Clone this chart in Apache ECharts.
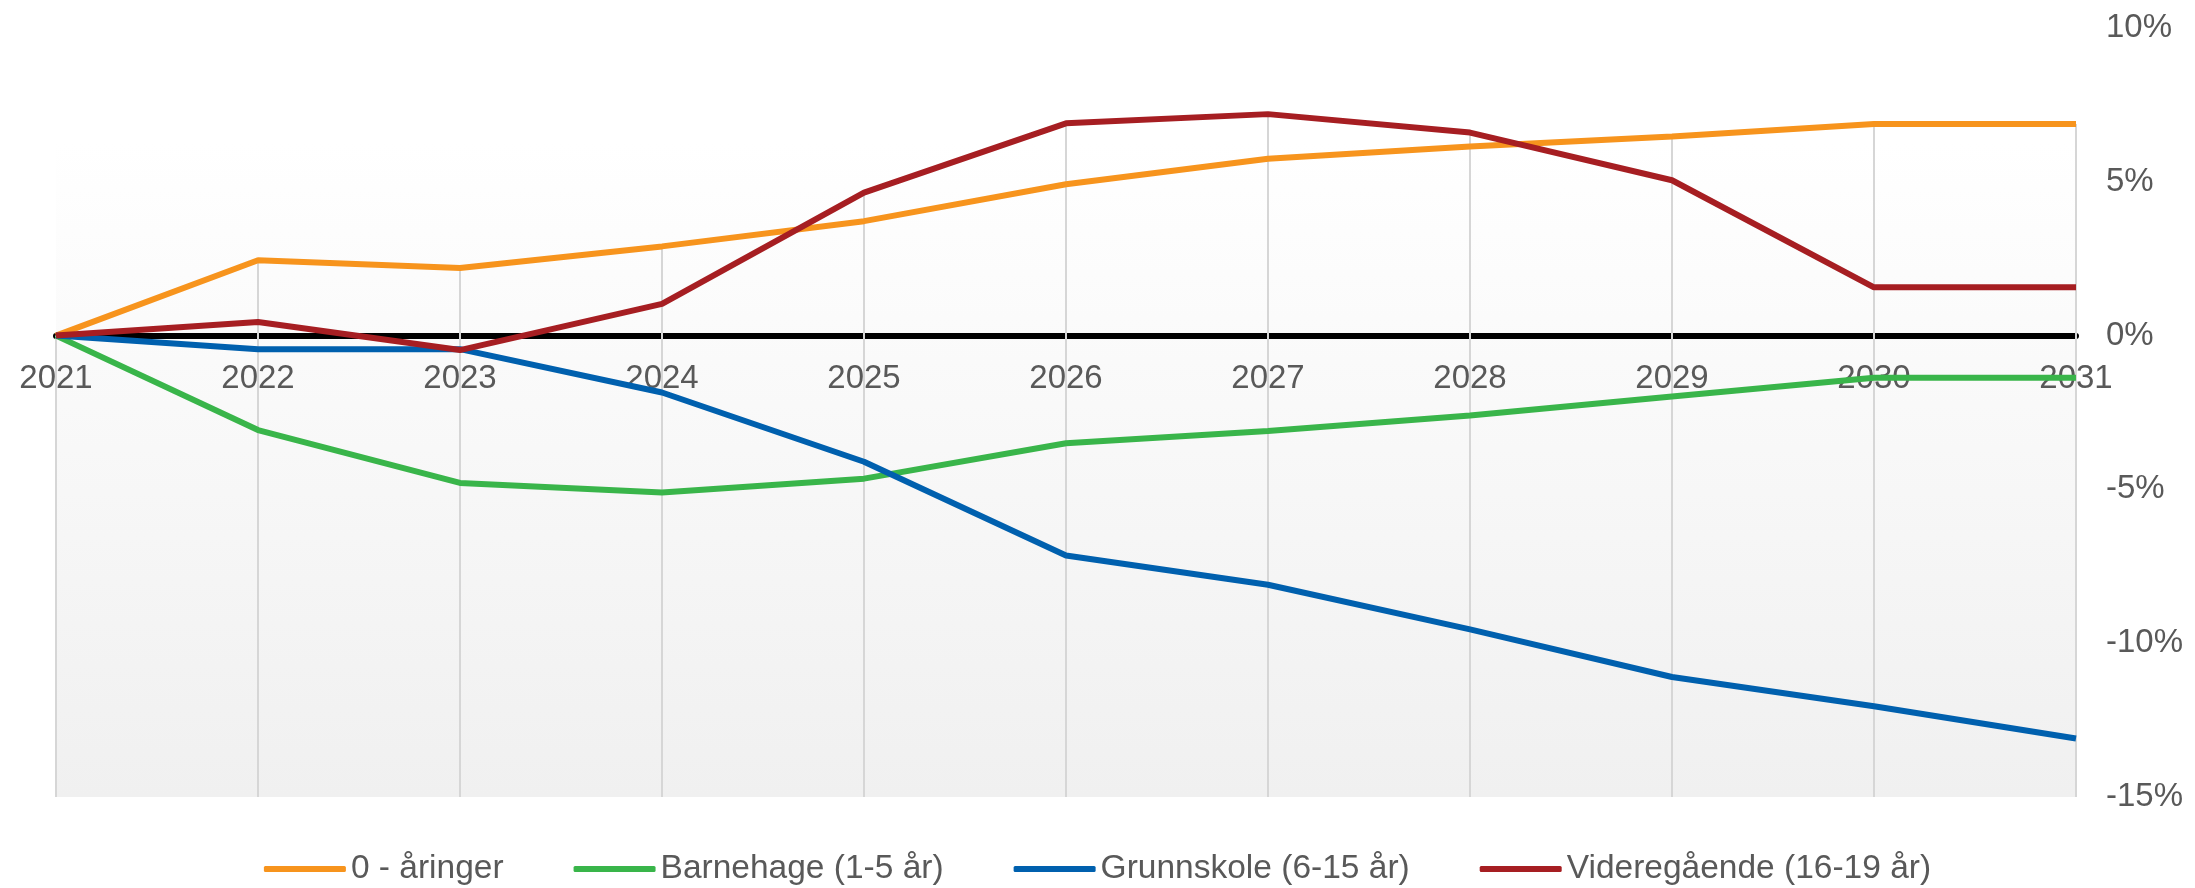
<!DOCTYPE html>
<html>
<head>
<meta charset="utf-8">
<script src="https://cdn.jsdelivr.net/npm/echarts@6/dist/echarts.min.js"></script>
<style>
html,body{margin:0;padding:0;background:#ffffff;}
#chart{width:2195px;height:888px;}
</style>
</head>
<body>
<div id="chart"></div>
<script>
const years = ['2021','2022','2023','2024','2025','2026','2027','2028','2029','2030','2031'];
const seriesNames = ['0 - åringer','Barnehage (1-5 år)','Grunnskole (6-15 år)','Videregående (16-19 år)'];
const aringer = [0, 2.45, 2.2, 2.9, 3.72, 4.92, 5.75, 6.15, 6.47, 6.88, 6.88];
const barnehage = [0, -3.07, -4.79, -5.1, -4.65, -3.5, -3.1, -2.6, -1.98, -1.37, -1.37];
const grunnskole = [0, -0.44, -0.44, -1.85, -4.1, -7.15, -8.1, -9.55, -11.1, -12.05, -13.1];
const videregaende = [0, 0.44, -0.47, 1.03, 4.65, 6.9, 7.2, 6.6, 5.05, 1.57, 1.57];
const yTicks = [-15, -10, -5, 0, 5, 10];
const colors = ['#F7941D', '#39B54A', '#0060AE', '#A61E22'];

const allSeries = [aringer, barnehage, grunnskole, videregaende];
const dropData = years.map((y, i) => [i, Math.max(...allSeries.map(s => s[i]))]);
const yMin = yTicks[0], yMax = yTicks[yTicks.length - 1];

const chart = echarts.init(document.getElementById('chart'));
const font = 'Liberation Sans, Arial, sans-serif';
chart.setOption({
  animation: false,
  grid: {
    left: 56, right: 119, top: 28, bottom: 91,
    show: true, borderWidth: 0,
    backgroundColor: new echarts.graphic.LinearGradient(0, 0, 0, 1, [
      {offset: 0, color: '#ffffff'},
      {offset: 0.15, color: '#ffffff'},
      {offset: 1, color: '#f0f0f0'}
    ])
  },
  legend: {
    data: seriesNames,
    top: 852, left: 'center',
    itemWidth: 82, itemHeight: 6, itemGap: 70,
    icon: 'roundRect',
    padding: 0,
    textStyle: {fontSize: 33.5, color: '#595959', fontFamily: font}
  },
  xAxis: {
    type: 'category',
    data: years,
    boundaryGap: false,
    position: 'bottom',
    offset: 0,
    axisLine: {show: true, onZero: false, lineStyle: {color: '#000000', width: 6}},
    axisTick: {show: false},
    splitLine: {show: false},
    axisLabel: {fontSize: 33, color: '#595959', fontFamily: font, margin: 27, interval: 0}
  },
  yAxis: {
    type: 'value',
    position: 'right',
    min: yMin, max: yMax, interval: 5,
    axisLine: {show: false},
    axisTick: {show: false},
    splitLine: {show: false},
    axisLabel: {fontSize: 33, color: '#595959', fontFamily: font, margin: 30, formatter: '{value}%'}
  },
  series: [
    {
      type: 'custom',
      name: 'drop',
      z: 1,
      silent: true,
      data: dropData,
      renderItem: function (params, api) {
        const p1 = api.coord([api.value(0), api.value(1)]);
        const p2 = api.coord([api.value(0), yMin]);
        return {
          type: 'line',
          shape: {x1: p1[0], y1: p1[1], x2: p2[0], y2: p2[1]},
          style: {stroke: '#d6d6d6', lineWidth: 2}
        };
      }
    },
    ...allSeries.map((d, i) => ({
      type: 'line',
      name: seriesNames[i],
      data: d,
      showSymbol: false,
      symbol: 'none',
      z: 3,
      color: colors[i],
      lineStyle: {width: 6, color: colors[i]}
    }))
  ]
});
// move the category axis (line + labels) up to the zero value using the y scale
const zeroY = chart.convertToPixel({yAxisIndex: 0}, 0);
const bottomY = chart.convertToPixel({yAxisIndex: 0}, yMin);
chart.setOption({xAxis: {offset: zeroY - bottomY}});
</script>
</body>
</html>
